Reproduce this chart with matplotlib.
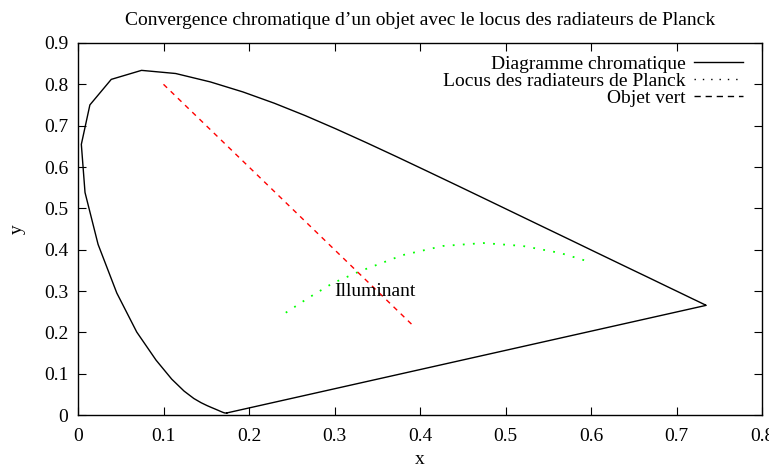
import matplotlib
matplotlib.use('Agg')
import matplotlib.pyplot as plt
from matplotlib.lines import Line2D

plt.rcParams['font.family'] = ['Liberation Serif', 'DejaVu Serif']
plt.rcParams['font.size'] = 14

# Diagramme chromatique (CIE 1931, locus spectral 380-700 nm, referme)
locus_x = [0.1741, 0.1740, 0.1738, 0.1736, 0.1733, 0.1730, 0.1726, 0.1721, 0.1714, 0.1703,
           0.1689, 0.1669, 0.1644, 0.1611, 0.1566, 0.1510, 0.1440, 0.1355, 0.1241, 0.1096,
           0.0913, 0.0687, 0.0454, 0.0235, 0.0082, 0.0039, 0.0139, 0.0389, 0.0743, 0.1142,
           0.1547, 0.1929, 0.2296, 0.2658, 0.3016, 0.3373, 0.3731, 0.4087, 0.4441, 0.4788,
           0.5125, 0.5448, 0.5752, 0.6029, 0.6270, 0.6482, 0.6658, 0.6801, 0.6915, 0.7006,
           0.7079, 0.7140, 0.7190, 0.7230, 0.7260, 0.7283, 0.7300, 0.7311, 0.7320, 0.7327,
           0.7334, 0.7340, 0.7344, 0.7346, 0.7347, 0.1741]
locus_y = [0.0050, 0.0050, 0.0049, 0.0049, 0.0048, 0.0048, 0.0048, 0.0048, 0.0051, 0.0058,
           0.0069, 0.0086, 0.0109, 0.0138, 0.0177, 0.0227, 0.0297, 0.0399, 0.0578, 0.0868,
           0.1327, 0.2007, 0.2950, 0.4127, 0.5384, 0.6548, 0.7502, 0.8120, 0.8338, 0.8262,
           0.8059, 0.7816, 0.7543, 0.7243, 0.6923, 0.6589, 0.6245, 0.5896, 0.5547, 0.5202,
           0.4866, 0.4544, 0.4242, 0.3965, 0.3725, 0.3514, 0.3340, 0.3197, 0.3083, 0.2993,
           0.2920, 0.2859, 0.2809, 0.2770, 0.2740, 0.2717, 0.2700, 0.2689, 0.2680, 0.2673,
           0.2666, 0.2660, 0.2656, 0.2654, 0.2653, 0.0050]

# Locus des radiateurs de Planck
planck_x = [0.243, 0.270, 0.298, 0.330, 0.380, 0.427, 0.474, 0.520, 0.564, 0.599]
planck_y = [0.2475, 0.284, 0.319, 0.348, 0.387, 0.409, 0.416, 0.409, 0.392, 0.370]

# Objet vert
objet_x = [0.10, 0.39]
objet_y = [0.80, 0.22]

label_text = 'Illuminant'
label_pos = (0.30, 0.30)

fig = plt.figure(figsize=(7.69, 4.66), dpi=100)
ax = fig.add_axes([78 / 769, 51 / 466, 684 / 769, 372 / 466])

ax.plot(locus_x, locus_y, color='black', lw=1.0)
ax.plot(planck_x, planck_y, color='#00ff00', lw=1.3, dashes=(1.0, 4.6))
ax.plot(objet_x, objet_y, color='#ff0000', lw=1.0, dashes=(3.6, 3.6))
ax.text(label_pos[0], label_pos[1], label_text, ha='left', va='center')

ax.set_xlim(0, 0.8)
ax.set_ylim(0, 0.9)
ax.set_xticks([0, 0.1, 0.2, 0.3, 0.4, 0.5, 0.6, 0.7, 0.8])
ax.set_xticklabels(['0', '0.1', '0.2', '0.3', '0.4', '0.5', '0.6', '0.7', '0.8'])
ax.set_yticks([0, 0.1, 0.2, 0.3, 0.4, 0.5, 0.6, 0.7, 0.8, 0.9])
ax.set_yticklabels(['0', '0.1', '0.2', '0.3', '0.4', '0.5', '0.6', '0.7', '0.8', '0.9'])
ax.tick_params(direction='in', top=True, right=True, length=6, width=0.8)
ax.tick_params(axis='x', pad=9.5)
ax.tick_params(axis='y', pad=7)
for s in ax.spines.values():
    s.set_linewidth(1.0)

ax.set_xlabel('x', labelpad=4)
ax.set_ylabel('y', labelpad=13)
ax.set_title('Convergence chromatique d\u2019un objet avec le locus des radiateurs de Planck',
             fontsize=14, pad=13)

handles = [Line2D([], [], color='black', lw=1.0),
           Line2D([], [], color='black', lw=1.0, dashes=(1.0, 5.0)),
           Line2D([], [], color='black', lw=1.0, dashes=(4.5, 3.5))]
labels = ['Diagramme chromatique', 'Locus des radiateurs de Planck', 'Objet vert']
ax.legend(handles, labels, loc='upper right', bbox_to_anchor=(0.972, 0.966),
          frameon=False, markerfirst=False,
          handlelength=2.5, handletextpad=0.45, labelspacing=-0.05,
          borderaxespad=0, borderpad=0)

fig.savefig('out.png', dpi=100)
